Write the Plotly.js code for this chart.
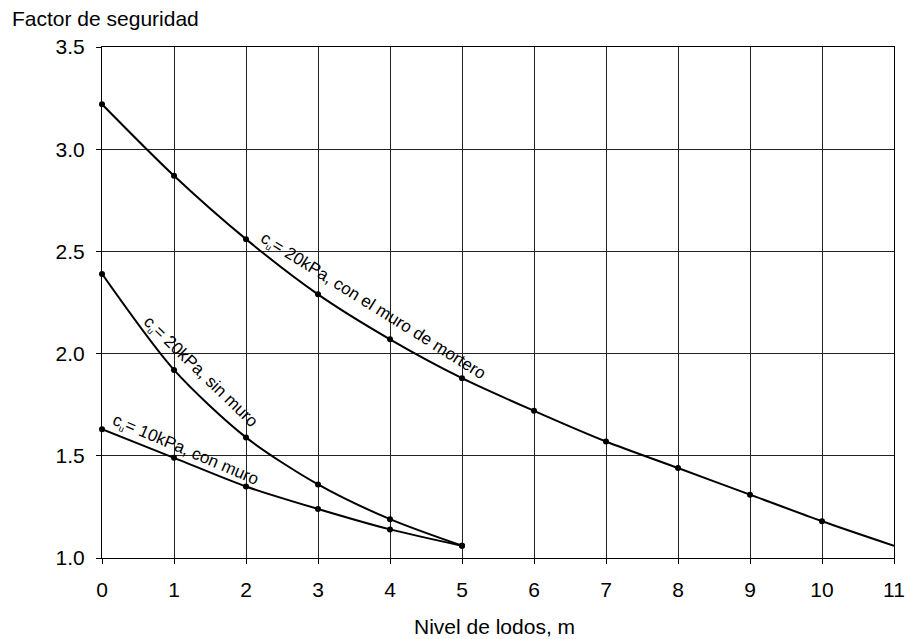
<!DOCTYPE html>
<html>
<head>
<meta charset="utf-8">
<script src="https://cdn.plot.ly/plotly-3.0.1.min.js"></script>
<style>html,body{margin:0;padding:0;background:#fff;}#chart{width:908px;height:639px;}</style>
</head>
<body>
<div id="chart"></div>
<script>
// Data
const nivelMortero = [0, 1, 2, 3, 4, 5, 6, 7, 8, 9, 10, 11];
const fsMortero    = [3.22, 2.87, 2.56, 2.29, 2.07, 1.88, 1.72, 1.57, 1.44, 1.31, 1.18, 1.06];
const markMortero  = [true, true, true, true, true, true, true, true, true, true, true, false];

const nivelSinMuro = [0, 1, 2, 3, 4, 5];
const fsSinMuro    = [2.39, 1.92, 1.59, 1.36, 1.19, 1.06];

const nivelConMuro = [0, 1, 2, 3, 4, 5];
const fsConMuro    = [1.63, 1.49, 1.35, 1.24, 1.14, 1.06];

const xTicks = [0, 1, 2, 3, 4, 5, 6, 7, 8, 9, 10, 11];
const yTicks = [1.0, 1.5, 2.0, 2.5, 3.0, 3.5];

const SUB_U = "c<sub><span style='font-size:9px'>u</span></sub>";
const labelMortero = SUB_U + "= 20kPa, con el muro de mortero";
const labelSinMuro = SUB_U + "= 20kPa, sin muro";
const labelConMuro = SUB_U + "= 10kPa, con muro";

const FONT = "'Liberation Sans', Arial, Helvetica, sans-serif";
const lineStyle = {color: "#000", width: 2, shape: "spline", smoothing: 0.8};

function lineTrace(x, y) {
  return {type: "scatter", mode: "lines", x: x, y: y, line: lineStyle,
          hoverinfo: "skip", showlegend: false};
}
function dotTrace(x, y) {
  return {type: "scatter", mode: "markers", x: x, y: y,
          marker: {color: "#000", size: 6}, hoverinfo: "skip",
          showlegend: false, cliponaxis: false};
}

const mortX = nivelMortero.filter((v, i) => markMortero[i]);
const mortY = fsMortero.filter((v, i) => markMortero[i]);

const traces = [
  lineTrace(nivelMortero, fsMortero), dotTrace(mortX, mortY),
  lineTrace(nivelSinMuro, fsSinMuro), dotTrace(nivelSinMuro, fsSinMuro),
  lineTrace(nivelConMuro, fsConMuro), dotTrace(nivelConMuro, fsConMuro)
];

const tickFont = {family: FONT, size: 21, color: "#000"};
const titleFont = {family: FONT, size: 21, color: "#000"};
const annFont = {family: FONT, size: 17, color: "#000"};
const layout = {
  width: 908, height: 639,
  margin: {l: 102, r: 14, t: 47, b: 81},
  paper_bgcolor: "#fff", plot_bgcolor: "#fff",
  font: {family: FONT, size: 21, color: "#000"},
  xaxis: {
    range: [0, 11], tickvals: xTicks, ticktext: xTicks.map(String),
    showgrid: true, gridcolor: "#222", gridwidth: 1,
    showline: true, linecolor: "#000", linewidth: 1, mirror: true,
    ticks: "outside", ticklen: 5, tickcolor: "#000",
    zeroline: false, fixedrange: true, ticklabelstandoff: 8,
    tickfont: tickFont
  },
  yaxis: {
    range: [1.0, 3.5], tickvals: yTicks, ticktext: yTicks.map(v => v.toFixed(1)),
    showgrid: true, gridcolor: "#222", gridwidth: 1,
    showline: true, linecolor: "#000", linewidth: 1, mirror: true,
    ticks: "outside", ticklen: 5, tickcolor: "#000",
    zeroline: false, fixedrange: true, ticklabelstandoff: 7,
    tickfont: tickFont
  },
  annotations: [
    {text: "Factor de seguridad", xref: "paper", yref: "paper",
     x: -92/792, y: 1 + 29/511, xanchor: "left", yanchor: "middle",
     showarrow: false, font: titleFont},
    {text: "Nivel de lodos, m", xref: "paper", yref: "paper",
     x: 0.495, y: -68/511, xanchor: "center", yanchor: "middle",
     showarrow: false, font: titleFont},
    {text: labelMortero, xref: "x", yref: "y", x: 3.76, y: 2.23,
     textangle: 32, showarrow: false, font: annFont},
    {text: labelSinMuro, xref: "x", yref: "y", x: 1.37, y: 1.91,
     textangle: 44, showarrow: false, font: annFont},
    {text: labelConMuro, xref: "x", yref: "y", x: 1.16, y: 1.525,
     textangle: 23, showarrow: false, font: annFont}
  ]
};

Plotly.newPlot("chart", traces, layout, {staticPlot: true, displayModeBar: false});
</script>
</body>
</html>
